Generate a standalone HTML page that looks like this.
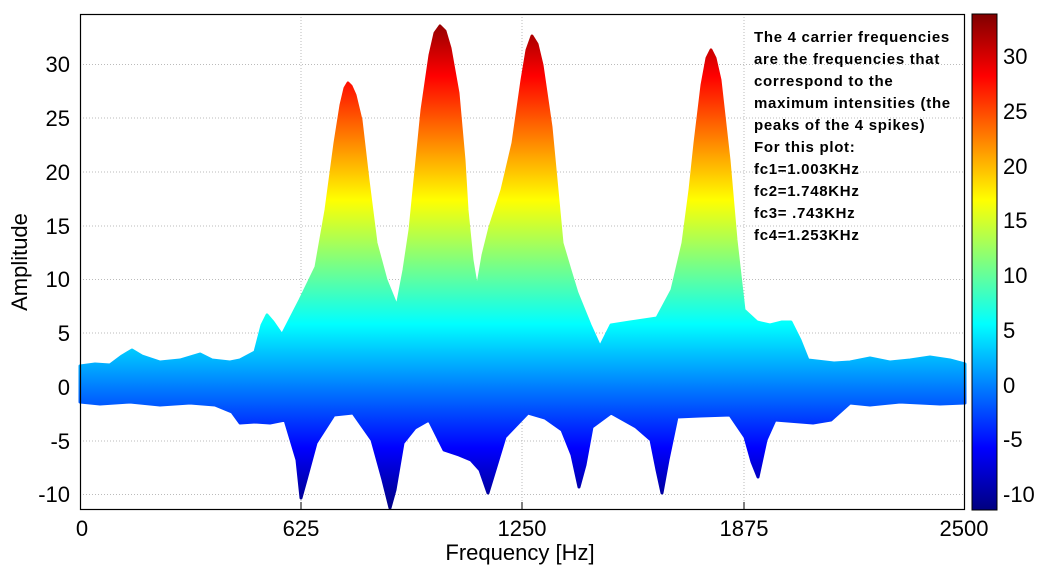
<!DOCTYPE html>
<html><head><meta charset="utf-8"><style>
body{margin:0;background:#fff;width:1041px;height:569px;overflow:hidden}
svg text{font-family:"Liberation Sans",Arial,sans-serif}
</style></head><body>
<svg width="1041" height="569" viewBox="0 0 1041 569" xmlns="http://www.w3.org/2000/svg">
<defs>
<linearGradient id="jet" gradientUnits="userSpaceOnUse" x1="0" y1="14" x2="0" y2="510">
<stop offset="0" stop-color="#800000"/>
<stop offset="0.125" stop-color="#ff0000"/>
<stop offset="0.375" stop-color="#ffff00"/>
<stop offset="0.625" stop-color="#00ffff"/>
<stop offset="0.875" stop-color="#0000ff"/>
<stop offset="1" stop-color="#000080"/>
</linearGradient>
</defs>
<g stroke="#bbb" stroke-dasharray="1,2" stroke-width="1">
<line x1="301" y1="14" x2="301" y2="510"/><line x1="522" y1="14" x2="522" y2="510"/><line x1="744" y1="14" x2="744" y2="510"/>
<line x1="80" y1="64.5" x2="965" y2="64.5"/><line x1="80" y1="118" x2="965" y2="118"/><line x1="80" y1="172" x2="965" y2="172"/>
<line x1="80" y1="226" x2="965" y2="226"/><line x1="80" y1="279.5" x2="965" y2="279.5"/><line x1="80" y1="333" x2="965" y2="333"/>
<line x1="80" y1="387" x2="965" y2="387"/><line x1="80" y1="441" x2="965" y2="441"/><line x1="80" y1="494.5" x2="965" y2="494.5"/>
</g>
<path fill="url(#jet)" stroke="url(#jet)" stroke-width="3" stroke-linejoin="round" d="M80,366 L95,364 L110,365 L122,356 L132,350 L142,356 L160,362 L180,360 L200,354 L212,360 L230,362 L240,360 L255,352 L262,325 L267,315 L273,322 L282,335 L300,300 L316,267 L326,210 L335,143 L341,105 L345,88 L348,83 L351,86 L355,95 L361,120 L368,180 L376,243 L386,280 L397,307 L404,270 L410,230 L416,170 L422,110 L430,55 L435,33 L440,26 L445,31 L450,48 L458,93 L464,160 L467,210 L472,260 L477,290 L483,255 L490,227 L502,190 L513,143 L522,80 L527,50 L532,36 L537,44 L542,65 L551,127 L557,190 L562,243 L570,270 L577,293 L590,325 L600,347 L606,335 L611,325 L630,322 L657,318 L672,290 L683,243 L690,190 L695,143 L702,85 L707,58 L711,50 L715,58 L720,80 L729,160 L736,240 L744,310 L757,322 L770,325 L782,322 L791,322 L800,340 L808,360 L834,363 L850,362 L870,358 L890,362 L910,360 L930,357 L950,360 L965,364 L965,403 L940,404 L900,402 L870,405 L850,403 L831,420 L813,423 L775,420 L766,440 L758,477 L752,462 L745,437 L730,415 L700,416 L677,417 L668,460 L662,493 L657,470 L651,440 L636,427 L611,413 L592,427 L585,465 L579,487 L572,455 L562,430 L545,418 L528,413 L505,437 L495,470 L488,493 L480,470 L471,460 L459,455 L444,450 L429,420 L415,428 L403,443 L395,490 L390,508 L383,480 L372,440 L353,413 L334,415 L316,443 L306,480 L301,498 L297,460 L285,420 L270,423 L255,422 L240,423 L232,412 L215,405 L190,403 L160,405 L130,402 L100,404 L80,402 Z"/>
<rect x="80.5" y="14.5" width="884" height="495" fill="none" stroke="#000" stroke-width="1.2"/>
<rect x="0" y="511" width="80" height="4" fill="#fff"/>
<g stroke="#000" stroke-width="1">
<line x1="301" y1="510" x2="301" y2="502"/><line x1="522" y1="510" x2="522" y2="502"/><line x1="744" y1="510" x2="744" y2="502"/>
</g>
<g font-size="22" fill="#000" text-anchor="end">
<text x="70" y="72">30</text><text x="70" y="126">25</text><text x="70" y="180">20</text><text x="70" y="234">15</text>
<text x="70" y="287">10</text><text x="70" y="341">5</text><text x="70" y="395">0</text><text x="70" y="449">-5</text><text x="70" y="502">-10</text>
</g>
<g font-size="22" fill="#000" text-anchor="middle">
<text x="82" y="536">0</text><text x="301" y="536">625</text><text x="522" y="536">1250</text><text x="744" y="536">1875</text><text x="964" y="536">2500</text>
<text x="520" y="560">Frequency [Hz]</text>
</g>
<text transform="translate(27,262) rotate(-90)" font-size="22" text-anchor="middle">Amplitude</text>
<g font-size="15" font-weight="bold" fill="#000" letter-spacing="0.7">
<text x="754" y="42">The 4 carrier frequencies</text>
<text x="754" y="64">are the frequencies that</text>
<text x="754" y="86">correspond to the</text>
<text x="754" y="108">maximum intensities (the</text>
<text x="754" y="130">peaks of the 4 spikes)</text>
<text x="754" y="152">For this plot:</text>
<text x="754" y="174">fc1=1.003KHz</text>
<text x="754" y="196">fc2=1.748KHz</text>
<text x="754" y="218">fc3= .743KHz</text>
<text x="754" y="240">fc4=1.253KHz</text>
</g>
<rect x="972" y="14" width="25" height="496" fill="url(#jet)" stroke="#000" stroke-width="1"/>
<g font-size="22" fill="#000">
<text x="1003" y="64">30</text><text x="1003" y="119">25</text><text x="1003" y="174">20</text><text x="1003" y="228">15</text>
<text x="1003" y="283">10</text><text x="1003" y="338">5</text><text x="1003" y="393">0</text><text x="1003" y="447">-5</text><text x="1003" y="502">-10</text>
</g>
</svg>
</body></html>
